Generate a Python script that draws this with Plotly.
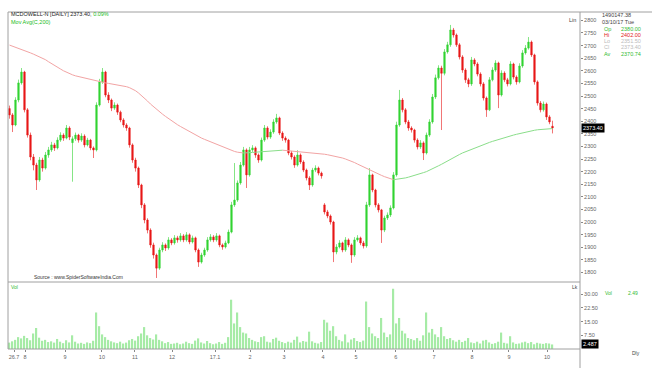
import plotly.graph_objects as go

W, H = 652, 368
def px(x): return x / W
def py(y): return 1 - y / H

opens = [2450,2425,2385,2484,2552,2595,2445,2345,2258,2226,
 2167,2246,2214,2266,2286,2306,2294,2325,2345,2333,
 2373,2315,2330,2345,2325,2341,2306,2325,2294,2286,
 2464,2556,2595,2504,2484,2452,2464,2436,2405,2385,
 2373,2306,2246,2214,2147,2068,2008,1968,1909,1869,
 1817,1889,1909,1897,1929,1917,1937,1929,1945,1929,
 1949,1921,1937,1889,1841,1869,1889,1929,1941,1929,
 1945,1909,1901,1917,1960,2068,2087,2155,2226,2286,
 2187,2286,2294,2266,2246,2325,2373,2337,2357,2397,
 2413,2353,2333,2325,2274,2258,2226,2266,2238,2206,
 2175,2147,2206,2214,2194,2068,2040,2024,2000,1881,
 1901,1917,1889,1929,1909,1869,1929,1937,1917,1905,
 2068,2187,2127,2068,2048,1968,2016,2028,2056,2187,
 2385,2484,2445,2397,2373,2365,2325,2298,2314,2274,
 2345,2397,2496,2572,2611,2590,2675,2703,2762,2742,
 2703,2655,2603,2564,2548,2643,2627,2587,2548,2492,
 2445,2564,2603,2631,2504,2591,2564,2548,2627,2575,
 2556,2619,2671,2690,2714,2663,2556,2472,2445,2468,
 2417,2380]
highs = [2462,2432,2495,2565,2611,2600,2452,2355,2270,2235,
 2258,2255,2278,2298,2318,2314,2336,2356,2352,2385,
 2380,2340,2355,2350,2352,2348,2334,2330,2300,2475,
 2568,2611,2600,2515,2490,2475,2470,2442,2412,2392,
 2378,2312,2255,2220,2152,2075,2015,1975,1918,1875,
 1898,1920,1915,1940,1936,1948,1945,1956,1952,1960,
 1955,1946,1942,1895,1878,1898,1940,1952,1948,1956,
 1950,1915,1926,1970,2080,2234,2165,2238,2298,2292,
 2298,2305,2300,2272,2335,2385,2380,2368,2408,2429,
 2418,2360,2340,2330,2282,2265,2285,2272,2245,2212,
 2182,2215,2225,2220,2200,2075,2048,2030,2005,1912,
 1928,1922,1940,1935,1915,1940,1948,1942,1925,2080,
 2214,2192,2132,2075,2052,2025,2038,2066,2198,2398,
 2524,2492,2452,2405,2380,2370,2332,2325,2320,2355,
 2408,2508,2585,2622,2620,2686,2715,2782,2770,2748,
 2710,2662,2610,2572,2655,2650,2634,2594,2555,2498,
 2575,2614,2642,2636,2602,2598,2572,2638,2632,2582,
 2630,2682,2702,2734,2720,2668,2562,2480,2478,2474,
 2424,2402]
lows = [2410,2357,2380,2475,2545,2435,2335,2245,2205,2127,
 2160,2200,2208,2255,2278,2282,2288,2318,2322,2328,
 2325,2160,2322,2315,2318,2296,2300,2285,2254,2280,
 2458,2548,2495,2472,2440,2445,2425,2396,2375,2362,
 2295,2235,2200,2135,2055,1995,1955,1898,1855,1778,
 1810,1880,1885,1890,1908,1910,1918,1922,1920,1922,
 1912,1915,1880,1822,1835,1862,1882,1922,1920,1922,
 1900,1890,1895,1912,1955,2060,2080,2148,2220,2135,
 2180,2278,2255,2235,2240,2318,2328,2330,2350,2390,
 2345,2322,2315,2265,2248,2215,2220,2230,2198,2165,
 2127,2140,2198,2185,2172,2030,2015,1990,1841,1872,
 1895,1880,1882,1900,1838,1862,1922,1908,1895,1898,
 2060,2118,2058,2038,1917,1960,2008,2020,2050,2180,
 2378,2435,2388,2362,2355,2315,2288,2290,2246,2268,
 2338,2390,2488,2565,2365,2582,2668,2695,2732,2695,
 2645,2592,2552,2535,2540,2618,2578,2538,2482,2417,
 2440,2558,2596,2452,2498,2555,2538,2542,2566,2545,
 2550,2612,2664,2684,2655,2545,2462,2435,2438,2405,
 2388,2351.5]
closes = [2425,2385,2484,2552,2595,2445,2345,2258,2226,2167,
 2246,2214,2266,2286,2306,2294,2325,2345,2333,2373,
 2337,2330,2345,2325,2341,2306,2325,2294,2286,2464,
 2556,2595,2504,2484,2452,2464,2436,2405,2385,2373,
 2306,2246,2214,2147,2068,2008,1968,1909,1869,1817,
 1889,1909,1897,1929,1917,1937,1929,1945,1929,1949,
 1921,1937,1889,1841,1869,1889,1929,1941,1929,1945,
 1909,1901,1917,1960,2068,2087,2155,2226,2286,2187,
 2286,2294,2266,2246,2325,2373,2337,2357,2397,2413,
 2353,2333,2325,2274,2258,2226,2266,2238,2206,2175,
 2147,2206,2214,2194,2183,2040,2024,2000,1881,1901,
 1917,1889,1929,1909,1869,1929,1937,1917,1905,2068,
 2187,2127,2068,2048,1968,2016,2028,2056,2187,2385,
 2484,2445,2397,2373,2365,2325,2298,2314,2274,2345,
 2397,2496,2572,2611,2590,2675,2703,2762,2742,2703,
 2655,2603,2564,2548,2643,2627,2587,2548,2492,2445,
 2564,2603,2631,2504,2591,2564,2548,2627,2575,2556,
 2619,2671,2690,2714,2663,2556,2472,2445,2468,2417,
 2397,2373.4]
ma200 = [2702,2698,2694,2690,2686,2681,2676,2671,2666,2661,
 2656,2650,2644,2636,2628,2621,2614,2607,2600,2594,
 2589,2584,2580,2577,2574,2571,2568,2565,2562,2559,
 2556,2554,2552,2550,2548,2546,2544,2542,2540,2537,
 2533,2528,2521,2512,2502,2491,2480,2468,2457,2447,
 2437,2428,2419,2410,2401,2393,2386,2379,2372,2365,
 2358,2351,2345,2339,2333,2328,2323,2318,2313,2308,
 2303,2298,2293,2288,2284,2280,2277,2275,2274,2274,
 2275,2276,2277,2278,2279,2280,2281,2282,2283,2284,
 2285,2285,2284,2283,2282,2280,2279,2278,2277,2276,
 2275,2274,2273,2272,2271,2269,2267,2265,2262,2260,
 2257,2254,2250,2246,2241,2236,2230,2224,2218,2212,
 2206,2200,2195,2190,2185,2180,2176,2173,2168,2169,
 2170,2172,2175,2178,2181,2184,2188,2192,2196,2200,
 2205,2211,2217,2223,2229,2236,2243,2250,2256,2262,
 2268,2274,2279,2284,2289,2294,2299,2304,2308,2312,
 2316,2320,2324,2328,2332,2336,2339,2342,2345,2348,
 2351,2354,2357,2360,2362,2364,2366,2367,2368,2369,
 2370,2370.74]
volume = [3.5,4.2,5.0,6.5,5.8,7.2,6.0,4.8,8.5,11.5,
 6.2,4.5,5.0,3.8,4.2,3.5,5.5,4.0,3.2,4.8,
 3.6,7.5,4.0,3.0,3.4,2.8,3.6,3.2,4.5,20.0,
 12.5,8.0,6.5,5.0,4.2,3.6,3.2,4.0,3.0,3.5,
 4.8,5.5,4.6,7.0,8.5,12.0,7.5,6.0,5.2,8.0,
 5.0,4.2,3.2,3.8,2.8,3.0,3.4,2.6,3.0,4.0,
 3.2,2.8,4.6,5.8,3.6,3.0,4.4,3.2,2.6,3.0,
 3.8,2.8,3.4,6.5,27.0,14.0,20.0,12.0,9.0,8.5,
 6.0,5.0,4.2,3.8,6.5,7.0,4.0,3.6,5.5,6.2,
 4.5,3.8,3.2,4.0,3.5,5.0,6.8,3.6,4.4,4.0,
 9.5,4.2,3.4,3.0,3.8,16.0,14.5,10.0,12.5,7.0,
 5.0,4.2,8.0,3.6,5.2,6.0,4.4,3.8,4.6,26.0,
 12.0,8.5,7.0,6.0,17.0,9.0,6.5,8.0,33.0,14.0,
 17.0,10.0,8.5,6.0,5.5,4.8,6.0,4.5,7.5,20.0,
 9.0,11.0,8.0,6.5,12.0,7.0,5.5,6.0,4.8,4.0,
 5.0,3.8,4.5,6.0,3.6,3.2,4.0,3.0,4.6,5.0,
 3.6,2.8,3.2,4.0,9.0,3.4,3.0,7.0,3.6,2.8,
 3.0,3.6,4.0,3.2,3.8,2.6,3.4,3.0,2.8,3.2,
 3.0,2.487]
x_tick_pos = [1.5, 5.2, 18.5, 30.8, 41.8, 54.2, 68.5, 80.2, 91.5, 104.5, 115.5, 128.8, 141.5, 154.2, 166.5, 179.2]
x_tick_text = ["26.7", "8", "9", "10", "11", "12", "17.1", "2", "3", "4", "5", "6", "7", "8", "9", "10"]
price_ticks = [1800, 1850, 1900, 1950, 2000, 2050, 2100, 2150, 2200, 2250, 2300,
               2350, 2400, 2450, 2500, 2550, 2600, 2650, 2700, 2750, 2800]
vol_ticks = [7.5, 15.0, 22.5, 30.0]

n = len(closes)
idx = list(range(n))
UP, DOWN = "#33d433", "#e81818"
MA_UP, MA_DOWN = "#8ade8a", "#f2a4a4"
FONT = "Liberation Sans"

fig = go.Figure()
fig.add_trace(go.Candlestick(
    x=idx, open=opens, high=highs, low=lows, close=closes,
    increasing=dict(line=dict(color=UP, width=0.6), fillcolor=UP),
    decreasing=dict(line=dict(color=DOWN, width=0.6), fillcolor=DOWN),
    whiskerwidth=0, xaxis="x", yaxis="y", showlegend=False))

runs = []
cur = None
for i in range(1, n):
    c = MA_UP if ma200[i] >= ma200[i - 1] else MA_DOWN
    if c != cur:
        runs.append([c, [i - 1], [ma200[i - 1]]])
        cur = c
    runs[-1][1].append(i)
    runs[-1][2].append(ma200[i])
for c, xs, ys in runs:
    fig.add_trace(go.Scatter(x=xs, y=ys, mode="lines", line=dict(color=c, width=1),
                             xaxis="x", yaxis="y", showlegend=False, hoverinfo="skip"))

fig.add_trace(go.Bar(x=idx, y=volume, marker=dict(color="#a6eba6", line=dict(width=0)),
                     width=0.45, xaxis="x", yaxis="y2", showlegend=False))

tickfont = dict(size=5.5, color="#666666", family=FONT)
fig.update_layout(
    width=W, height=H, margin=dict(l=0, r=0, t=0, b=0),
    paper_bgcolor="white", plot_bgcolor="white", showlegend=False,
    xaxis=dict(domain=[px(8), px(580)], range=[-0.5, 190.17], anchor="y2",
               rangeslider=dict(visible=False), showgrid=False, zeroline=False,
               tickmode="array", tickvals=x_tick_pos, ticktext=x_tick_text,
               ticks="outside", ticklen=2, tickcolor="#888888", tickfont=tickfont),
    yaxis=dict(domain=[py(282), py(12)], range=[1762.0, 2833.3], side="right", anchor="x",
               tickmode="array", tickvals=price_ticks, ticktext=[str(v) for v in price_ticks],
               ticks="outside", ticklen=2, tickcolor="#888888", showgrid=False,
               zeroline=False, tickfont=tickfont),
    yaxis2=dict(domain=[py(349), py(282)], range=[0, 36.7], side="right", anchor="x",
                tickmode="array", tickvals=vol_ticks, ticktext=[f"{v:.2f}" for v in vol_ticks],
                ticks="outside", ticklen=2, tickcolor="#888888", showgrid=False,
                zeroline=False, tickfont=tickfont),
)

line_c = "#a0a0a0"
shapes = [
    dict(x0=px(8), x1=1, y0=py(12), y1=py(12)),
    dict(x0=px(8), x1=px(8), y0=py(12), y1=py(349)),
    dict(x0=px(8), x1=px(580), y0=py(282), y1=py(282)),
    dict(x0=px(8), x1=px(580), y0=py(349), y1=py(349)),
    dict(x0=px(580), x1=px(580), y0=py(12), y1=0),
]
for s in shapes:
    s.update(type="line", xref="paper", yref="paper", line=dict(color=line_c, width=1))
fig.update_layout(shapes=shapes)

def txt(x, y, t, color="#333333", size=5.5):
    fig.add_annotation(x=px(x), y=py(y), xref="paper", yref="paper", text=t, showarrow=False,
                       xanchor="left", yanchor="middle", font=dict(size=size, color=color, family=FONT))

txt(9, 14, f"MCDOWELL-N [DAILY] {closes[-1]:.2f}, <span style='color:#22bb22'>0.09%</span>", "#222222")
txt(9, 22, "Mov Avg(C,200)", "#22bb22")
txt(567, 20, "Lin", "#444444")
txt(600, 15, "1490147.38", "#444444")
txt(600, 22, "03/10/17 Tue", "#444444")
txt(602, 29, "Op", "#33bb33"); txt(619, 29, f"{opens[-1]:.2f}", "#33bb33")
txt(602, 35, "Hi", "#e02020"); txt(619, 35, f"{highs[-1]:.2f}", "#e02020")
txt(602, 41, "Lo", "#bbbbbb"); txt(619, 41, f"{lows[-1]:.2f}", "#bbbbbb")
txt(602, 47, "Cl", "#bbbbbb"); txt(619, 47, f"{closes[-1]:.2f}", "#bbbbbb")
txt(602, 54, "Av", "#33bb33"); txt(619, 54, f"{ma200[-1]:.2f}", "#33bb33")
txt(32, 277, "Source : www.SpiderSoftwareIndia.Com", "#333333", 5)
txt(9, 287, "Vol", "#33bb33", 5)
txt(570, 287, "Lk", "#444444", 5)
txt(603, 293, "Vol", "#33bb33", 5)
txt(626, 293, f"{volume[-1]:.2f}", "#33bb33", 5)
txt(630, 353, "Dly", "#444444", 5)

fig.add_annotation(x=px(581), y=closes[-1], xref="paper", yref="y", text=f"{closes[-1]:.2f}",
                   showarrow=False, xanchor="left", yanchor="middle", bgcolor="black",
                   font=dict(size=5.5, color="white", family=FONT), borderpad=1)
fig.add_annotation(x=px(581), y=volume[-1], xref="paper", yref="y2", text=f"{volume[-1]:.3f}",
                   showarrow=False, xanchor="left", yanchor="middle", bgcolor="black",
                   font=dict(size=5.5, color="white", family=FONT), borderpad=1)

fig.write_html("out.html")
